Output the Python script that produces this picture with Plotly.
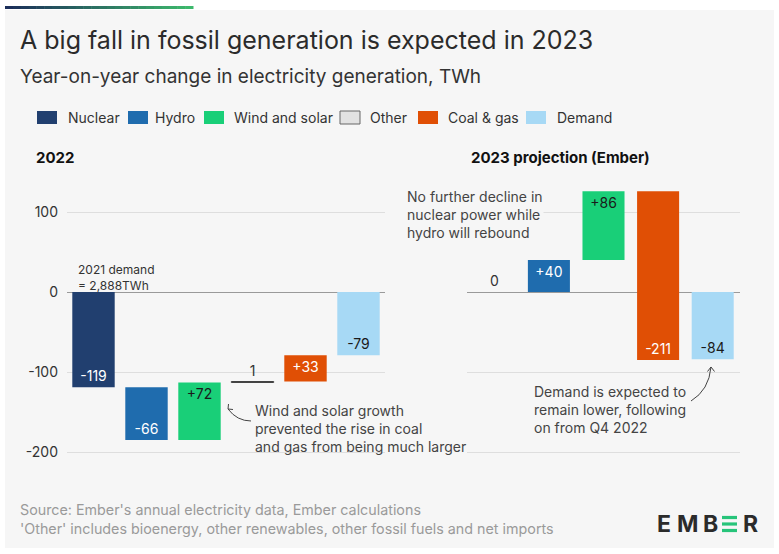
import plotly.graph_objects as go

W, H = 779, 554
T, B = 180, 460  # plot-area top / bottom in px

# ---------------- data ----------------
categories_2022 = ["Nuclear", "Hydro", "Wind and solar", "Other", "Coal & gas", "Demand"]
values_2022 = [-119, -66, 72, 1, 33, -79]
labels_2022 = ["-119", "-66", "+72", "1", "+33", "-79"]

categories_2023 = ["Nuclear", "Hydro", "Wind and solar", "Coal & gas", "Demand"]
values_2023 = [0, 40, 86, -211, -84]
labels_2023 = ["0", "+40", "+86", "-211", "-84"]

y_ticks = [-200, -100, 0, 100]
y_ticklabels = ["-200", "-100", "0", "100"]

legend_items = ["Nuclear", "Hydro", "Wind and solar", "Other", "Coal & gas", "Demand"]

# ---------------- styles ----------------
FONT = "Inter"
colors = {
    "Nuclear": "#213f6f",
    "Hydro": "#1f6cae",
    "Wind and solar": "#19cf78",
    "Other": "#e2e2e2",
    "Coal & gas": "#e04f05",
    "Demand": "#a7d9f5",
}
text_colors = {
    "Nuclear": "#ffffff",
    "Hydro": "#ffffff",
    "Wind and solar": "#1a1a1a",
    "Other": "#333333",
    "Coal & gas": "#ffffff",
    "Demand": "#1a1a1a",
}


def px(x):
    return x / W


def py(y):
    return (B - y) / (B - T)


def waterfall_bases(cats, vals):
    bases, run = [], 0
    for c, v in zip(cats, vals):
        if c == "Demand":
            bases.append(0)
        else:
            bases.append(run)
            run += v
    return bases


def make_trace(cats, vals, labels, xa, ya, width):
    bases = waterfall_bases(cats, vals)
    outside = [abs(v) < 5 for v in vals]
    return go.Bar(
        x=cats, y=vals, base=bases, xaxis=xa, yaxis=ya,
        width=width,
        marker=dict(
            color=[colors[c] for c in cats],
            line=dict(color=["#333333" if c == "Other" else "rgba(0,0,0,0)" for c in cats],
                      width=[1 if c == "Other" else 0 for c in cats]),
        ),
        text=labels, textposition=["outside" if o else "inside" for o in outside],
        insidetextanchor="end",
        textfont=dict(family=FONT, size=14,
                      color=["#333333" if o else text_colors[c] for c, o in zip(cats, outside)]),
        cliponaxis=False, showlegend=False, hoverinfo="skip",
    )


fig = go.Figure()
fig.add_trace(make_trace(categories_2022, values_2022, labels_2022, "x", "y", 0.8))
fig.add_trace(make_trace(categories_2023, values_2023, labels_2023, "x2", "y2", 0.77))

axis_common = dict(showgrid=False, zeroline=False, showticklabels=False, ticks="",
                   automargin=False, fixedrange=True)
yaxis_common = dict(range=[-210, 140], tickvals=y_ticks, ticktext=y_ticklabels,
                    gridcolor="#dedede", gridwidth=1, zeroline=True,
                    zerolinecolor="#9a9a9a", zerolinewidth=1, ticks="",
                    automargin=False, fixedrange=True,
                    tickfont=dict(family=FONT, size=14, color="#333333"))

shapes = []
# panel background
shapes.append(dict(type="rect", xref="paper", yref="paper", x0=px(5), x1=px(774),
                   y0=py(548), y1=py(10), fillcolor="#f6f6f6", line=dict(width=0),
                   layer="below"))
# top gradient rule
g0, g1 = (0x1c, 0x2f, 0x5a), (0x3d, 0xb8, 0x6c)
nseg = 24
x_start, x_end = 5, 193
for i in range(nseg):
    t = i / (nseg - 1)
    col = "rgb(%d,%d,%d)" % tuple(round(a + (b - a) * t) for a, b in zip(g0, g1))
    xa = x_start + (x_end - x_start) * i / nseg
    xb = x_start + (x_end - x_start) * (i + 1) / nseg + 0.5
    shapes.append(dict(type="line", xref="paper", yref="paper", x0=px(xa), x1=px(xb),
                       y0=py(7.5), y1=py(7.5), line=dict(color=col, width=3)))

# legend swatches (manual)
legend_sw_x = [37, 128, 204, 340, 418, 526]
legend_tx_x = [66, 153, 232, 368, 446, 555]
for name, sx in zip(legend_items, legend_sw_x):
    shapes.append(dict(type="rect", xref="paper", yref="paper", x0=px(sx), x1=px(sx + 20),
                       y0=py(124), y1=py(111), fillcolor=colors[name],
                       line=dict(color="#666666" if name == "Other" else colors[name],
                                 width=1 if name == "Other" else 0)))


def path_str(pts):
    (x0, y0), (cx, cy), (x1, y1) = pts
    return "M %f,%f Q %f,%f %f,%f" % (px(x0), py(y0), px(cx), py(cy), px(x1), py(y1))


def poly_str(pts):
    return "M " + " L ".join("%f,%f" % (px(a), py(b)) for a, b in pts)


arrow_col = "#444444"
# left curved arrow
shapes.append(dict(type="path", xref="paper", yref="paper",
                   path=path_str([(251, 421), (237, 421), (228, 409)]),
                   line=dict(color=arrow_col, width=1)))
shapes.append(dict(type="path", xref="paper", yref="paper",
                   path=poly_str([(228.5, 404), (228, 409), (233, 409.5)]),
                   line=dict(color=arrow_col, width=1)))
# right curved arrow
shapes.append(dict(type="path", xref="paper", yref="paper",
                   path=path_str([(691, 401), (709, 390), (711, 367)]),
                   line=dict(color=arrow_col, width=1)))
shapes.append(dict(type="path", xref="paper", yref="paper",
                   path=poly_str([(707.5, 371.5), (711, 367), (714.5, 371.5)]),
                   line=dict(color=arrow_col, width=1)))

# logo: the green "E" bars
for yy in (517.5, 524, 530.5):
    shapes.append(dict(type="rect", xref="paper", yref="paper", x0=px(722), x1=px(737),
                       y0=py(yy + 1.6), y1=py(yy - 1.6), fillcolor="#27c47a",
                       line=dict(width=0)))

annotations = []


def ann(text, x, y, size=14, color="#333333", xanchor="left", yanchor="middle",
        align="left", **kw):
    annotations.append(dict(text=text, x=px(x), y=py(y), xref="paper", yref="paper",
                            showarrow=False, xanchor=xanchor, yanchor=yanchor, align=align,
                            font=dict(family=FONT, size=size, color=color), **kw))


ann("A big fall in fossil generation is expected in 2023", 18, 40, size=25, color="#2b2b2b")
ann("Year-on-year change in electricity generation, TWh", 18, 76, size=19, color="#333333")
for name, tx in zip(legend_items, legend_tx_x):
    ann(name, tx, 117.5, size=14, color="#333333")
ann("<b>2022</b>", 34, 157, size=15, color="#111111")
ann("<b>2023 projection (Ember)</b>", 469, 157, size=15, color="#111111")
ann("2021 demand<br>= 2,888TWh", 76, 277, size=12, color="#333333")
ann("Wind and solar growth<br>prevented the rise in coal<br>and gas from being much larger",
    253, 400, size=14, color="#444444", yanchor="top")
ann("No further decline in<br>nuclear power while<br>hydro will rebound",
    406, 187, size=14, color="#444444", yanchor="top", bgcolor="#f6f6f6", borderpad=0)
ann("Demand is expected to<br>remain lower, following<br>on from Q4 2022",
    532, 381, size=14, color="#444444", yanchor="top")
ann("Source: Ember's annual electricity data, Ember calculations<br>"
    "'Other' includes bioenergy, other renewables, other fossil fuels and net imports",
    18, 519, size=14.3, color="#9a9a9a")
# logo letters
for ch, cx in zip(["E", "M", "B", "R"], [664, 687.5, 710, 750]):
    annotations.append(dict(text="<b>%s</b>" % ch, x=px(cx), y=py(524), xref="paper",
                            yref="paper", showarrow=False, xanchor="center",
                            yanchor="middle",
                            font=dict(family=FONT, size=23, color="#2b2b2b")))

fig.update_layout(
    width=W, height=H,
    margin=dict(l=0, r=0, t=T, b=H - B, pad=0),
    paper_bgcolor="#ffffff", plot_bgcolor="rgba(0,0,0,0)",
    font=dict(family=FONT, color="#333333"),
    xaxis=dict(domain=[px(67), px(385)], anchor="y", **axis_common),
    xaxis2=dict(domain=[px(467), px(740)], anchor="y2", **axis_common),
    yaxis=dict(anchor="x", showticklabels=True, ticklabelstandoff=8, **yaxis_common),
    yaxis2=dict(anchor="x2", matches="y", showticklabels=False, **yaxis_common),
    barmode="overlay",
    shapes=shapes, annotations=annotations,
    showlegend=False,
)

fig.write_html(
    "out.html",
    config={"displayModeBar": False},
    post_script="document.body.style.margin='0';document.body.style.padding='0';"
                "document.documentElement.style.overflow='hidden';",
)
